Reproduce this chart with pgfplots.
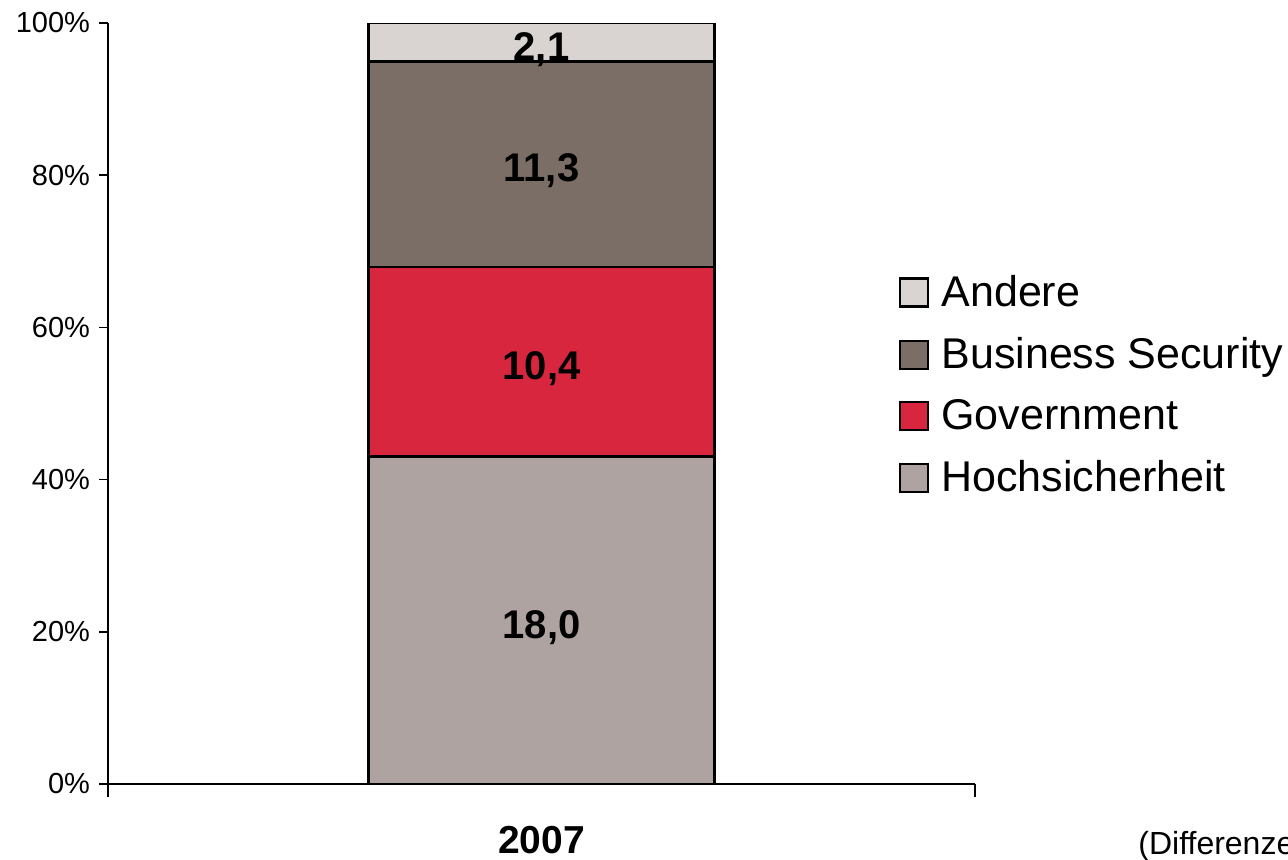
\documentclass[border=0pt]{standalone}
\usepackage{pgfplots}
\pgfplotsset{compat=1.18}
\usepackage{pgfplotstable}
\usepackage{fontspec}
\setmainfont{Liberation Sans}
\definecolor{cAndere}{HTML}{D9D4D2}
\definecolor{cBusiness}{HTML}{7B6E66}
\definecolor{cGov}{HTML}{D9263F}
\definecolor{cHoch}{HTML}{AFA3A2}
\pgfplotstableread{
x y
0 43.06
}\hoch
\pgfplotstableread{
x y
0 24.88
}\gov
\pgfplotstableread{
x y
0 27.03
}\business
\pgfplotstableread{
x y
0 5.03
}\andere
\pgfplotstableread{
x y lab
0 21.53 18,0
0 55.50 10,4
0 81.46 11,3
0 97.48 2,1
}\labels
\begin{document}
\begin{tikzpicture}
\clip (0,0) rectangle (644pt,429.5pt);
\begin{axis}[
  at={(54pt,37.5pt)}, anchor=south west,
  scale only axis, width=433.5pt, height=380.5pt,
  ybar stacked, bar width=173pt,
  xmin=-0.5, xmax=0.5, ymin=0, ymax=100,
  axis lines*=left, axis line style={-, line width=0.8pt},
  tick align=outside, tick style={black, line width=0.8pt},
  major tick length=4.5pt,
  ytick={0,20,40,60,80,100},
  yticklabel={\pgfmathprintnumber{\tick}\%},
  /pgf/number format/assume math mode=true,
  yticklabel style={font=\fontsize{14.5}{17}\selectfont, xshift=-1pt},
  xtick={-0.5,0.5}, xticklabels={},
  x tick style={yscale=1.45},
  extra x ticks={0}, extra x tick labels={\textbf{2007}},
  extra x tick style={tick style={draw=none}, tick label style={font=\fontsize{19.5}{22}\selectfont, yshift=-13pt}},
  reverse legend,
  legend style={draw=none, fill=none, at={(0.912,0.524)}, anchor=west,
    font=\fontsize{21.5}{24}\selectfont, row sep=14pt, inner sep=0pt,
    nodes={inner sep=0pt, outer sep=0pt}},
  legend cell align=left,
  legend image code/.code={\draw[#1, draw=black, line width=1.1pt] (0pt,-7pt) rectangle (14pt,7pt); \path (20pt,0pt);},
]
\addplot[fill=cHoch, draw=black, line width=1.3pt] table[x=x,y=y] {\hoch};
\addlegendentry{Hochsicherheit}
\addplot[fill=cGov, draw=black, line width=1.3pt] table[x=x,y=y] {\gov};
\addlegendentry{Government}
\addplot[fill=cBusiness, draw=black, line width=1.3pt] table[x=x,y=y] {\business};
\addlegendentry{Business Security}
\addplot[fill=cAndere, draw=black, line width=1.3pt] table[x=x,y=y] {\andere};
\addlegendentry{Andere}
\end{axis}
\begin{axis}[
  at={(54pt,37.5pt)}, anchor=south west,
  scale only axis, width=433.5pt, height=380.5pt,
  xmin=-0.5, xmax=0.5, ymin=0, ymax=100, hide axis,
]
\addplot[only marks, mark=none, point meta=explicit symbolic,
  nodes near coords, nodes near coords align=center,
  every node near coord/.style={anchor=center, yshift=-3.5pt, font=\fontsize{20}{24}\selectfont\bfseries}]
  table[x=x,y=y,meta=lab] {\labels};
\end{axis}
\node[anchor=base west, inner sep=0pt, font=\fontsize{16}{19}\selectfont] at (569pt,2.5pt) {(Differenzen durch Rundung)};
\end{tikzpicture}
\end{document}
